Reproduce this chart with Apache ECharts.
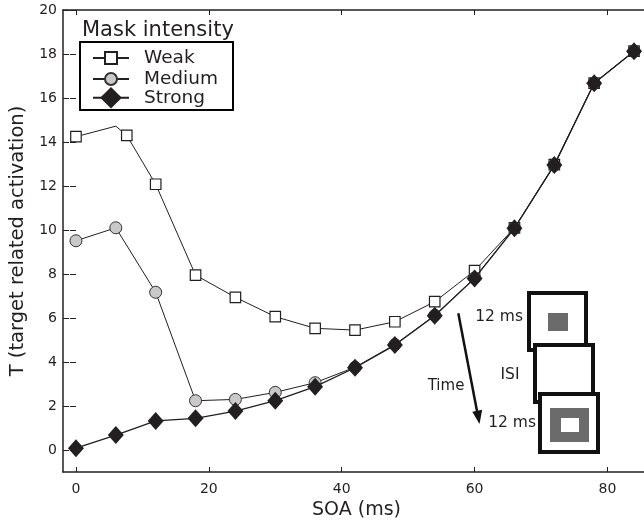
<!DOCTYPE html>
<html>
<head>
<meta charset="utf-8">
<script src="https://cdn.jsdelivr.net/npm/echarts@6/dist/echarts.min.js"></script>
<style>
  html, body { margin: 0; padding: 0; background: #fff; }
  #chart { width: 644px; height: 525px; }
</style>
</head>
<body>
<div id="chart"></div>
<script>
// Stimulus onset asynchrony (ms) shared by the medium and strong masks
const soaMs = [0, 6, 12, 18, 24, 30, 36, 42, 48, 54, 60, 66, 72, 78, 84];
// Weak mask has its own sample positions (one vertex carries no marker)
const weakSoa = [0, 6, 7.65, 12, 18, 24, 30, 36, 42, 48, 54, 60, 66, 72, 78, 84];
const weakT = [14.24, 14.72, 14.3, 12.08, 7.95, 6.94, 6.06, 5.53, 5.45, 5.83, 6.74, 8.15, 10.1, 12.97, 16.68, 18.13];
const weakHiddenMarker = [1];
const mediumT = [9.51, 10.1, 7.17, 2.24, 2.3, 2.62, 3.06, 3.76, 4.79, 6.12, 7.82, 10.08, 12.95, 16.67, 18.12];
const strongT = [0.08, 0.68, 1.32, 1.44, 1.77, 2.24, 2.88, 3.74, 4.77, 6.1, 7.8, 10.08, 12.95, 16.67, 18.12];

const xTicks = [0, 20, 40, 60, 80];
const yTicks = [0, 2, 4, 6, 8, 10, 12, 14, 16, 18, 20];
const seriesNames = ['Weak', 'Medium', 'Strong'];

const FONT = 'DejaVu Sans';
const INK = '#231f20';

const weakData = weakSoa.map((x, i) => {
  const item = { value: [x, weakT[i]] };
  if (weakHiddenMarker.includes(i)) item.symbol = 'none';
  return item;
});
const mediumData = soaMs.map((x, i) => [x, mediumT[i]]);
const strongData = soaMs.map((x, i) => [x, strongT[i]]);

const chart = echarts.init(document.getElementById('chart'), null, { renderer: 'canvas' });

const baseX = {
  type: 'value', min: -1.95, max: 85.5,
  splitLine: { show: false },
  axisLine: { show: true, onZero: false, lineStyle: { color: INK, width: 1.5 } },
  axisTick: { show: true, inside: true, length: 5, customValues: xTicks, lineStyle: { color: INK, width: 1 } }
};
const baseY = {
  type: 'value', min: -1, max: 20,
  splitLine: { show: false },
  axisLine: { show: true, onZero: false, lineStyle: { color: INK, width: 1.5 } },
  axisTick: { show: true, inside: true, length: 6, customValues: yTicks, lineStyle: { color: INK, width: 1 } }
};

const legendText = { fontFamily: FONT, fontSize: 18.5, color: INK, lineHeight: 20, padding: [0, 0, 0, 10] };

const option = {
  animation: false,
  backgroundColor: '#fff',
  grid: { left: 61, top: 10, right: 0, height: 462, containLabel: false },
  title: {
    text: 'Mask intensity', left: 82, top: 20, padding: 0,
    textStyle: { fontFamily: FONT, fontSize: 21, fontWeight: 'normal', color: INK }
  },
  legend: [
    {
      data: ['Weak', 'Medium'], orient: 'vertical', left: 92, top: 48, padding: 0,
      itemWidth: 36, itemHeight: 15, itemGap: 1,
      textStyle: legendText
    },
    {
      data: ['Strong'], orient: 'vertical', left: 92, top: 87, padding: 0,
      itemWidth: 36, itemHeight: 27, itemGap: 0,
      textStyle: legendText
    }
  ],
  xAxis: [
    Object.assign({}, baseX, {
      position: 'bottom',
      name: 'SOA (ms)', nameLocation: 'middle', nameGap: 29,
      nameTextStyle: { fontFamily: FONT, fontSize: 19, color: INK, padding: [0, 0, 0, 6] },
      axisLabel: { customValues: xTicks, margin: 10, fontFamily: FONT, fontSize: 14, color: INK }
    }),
    Object.assign({}, baseX, { position: 'top', axisLabel: { show: false } })
  ],
  yAxis: [
    Object.assign({}, baseY, {
      position: 'left',
      name: 'T (target related activation)', nameLocation: 'middle', nameGap: 35,
      nameTextStyle: { fontFamily: FONT, fontSize: 19.5, color: INK },
      axisLabel: { customValues: yTicks, margin: 6, fontFamily: FONT, fontSize: 14, color: INK }
    }),
    Object.assign({}, baseY, {
      position: 'right',
      axisLine: { show: false },
      axisLabel: { show: false }
    })
  ],
  series: [
    {
      name: seriesNames[0], type: 'line', data: weakData,
      symbol: 'rect', symbolSize: 10.5,
      lineStyle: { color: INK, width: 1 },
      itemStyle: { color: '#fff', borderColor: INK, borderWidth: 1.2 },
      z: 2
    },
    {
      name: seriesNames[1], type: 'line', data: mediumData,
      symbol: 'circle', symbolSize: 12,
      lineStyle: { color: INK, width: 1 },
      itemStyle: { color: '#c9c9c9', borderColor: '#333', borderWidth: 1 },
      z: 3
    },
    {
      name: seriesNames[2], type: 'line', data: strongData,
      symbol: 'diamond', symbolSize: [16, 18],
      lineStyle: { color: INK, width: 1.3 },
      itemStyle: { color: INK, borderColor: INK, borderWidth: 0 },
      z: 4
    }
  ],
  graphic: [
    // legend frame
    { type: 'rect', z: 1, shape: { x: 80, y: 42, width: 153, height: 68 },
      style: { fill: 'transparent', stroke: '#000', lineWidth: 2 } },
    // stimulus sequence inset: target, blank interval, mask
    { type: 'rect', z: 10, shape: { x: 529, y: 293, width: 57, height: 57 },
      style: { fill: '#fff', stroke: '#111', lineWidth: 4 } },
    { type: 'rect', z: 10, shape: { x: 548, y: 313, width: 20, height: 18 },
      style: { fill: '#6b6b6b' } },
    { type: 'rect', z: 11, shape: { x: 535, y: 345, width: 58, height: 57 },
      style: { fill: '#fff', stroke: '#111', lineWidth: 4 } },
    { type: 'rect', z: 12, shape: { x: 540, y: 394, width: 58, height: 58 },
      style: { fill: '#fff', stroke: '#111', lineWidth: 4 } },
    { type: 'rect', z: 12, shape: { x: 550, y: 408, width: 39, height: 34 },
      style: { fill: '#6b6b6b' } },
    { type: 'rect', z: 12, shape: { x: 561, y: 418, width: 18, height: 14 },
      style: { fill: '#fff' } },
    // time arrow
    { type: 'line', z: 10, shape: { x1: 458.3, y1: 313.3, x2: 477, y2: 411 },
      style: { stroke: '#111', lineWidth: 2.5 } },
    { type: 'polygon', z: 10, shape: { points: [[479.5, 424], [482.2, 409.8], [472.3, 411.7]] },
      style: { fill: '#111' } },
    { type: 'text', z: 10, x: 446, y: 386,
      style: { text: 'Time', font: '15px "DejaVu Sans"', fill: INK, align: 'center', verticalAlign: 'middle' } },
    { type: 'text', z: 10, x: 523, y: 317,
      style: { text: '12 ms', font: '15.5px "DejaVu Sans"', fill: INK, align: 'right', verticalAlign: 'middle' } },
    { type: 'text', z: 10, x: 510, y: 375,
      style: { text: 'ISI', font: '15.5px "DejaVu Sans"', fill: INK, align: 'center', verticalAlign: 'middle' } },
    { type: 'text', z: 10, x: 536, y: 423,
      style: { text: '12 ms', font: '15.5px "DejaVu Sans"', fill: INK, align: 'right', verticalAlign: 'middle' } }
  ]
};

chart.setOption(option);
</script>
</body>
</html>
